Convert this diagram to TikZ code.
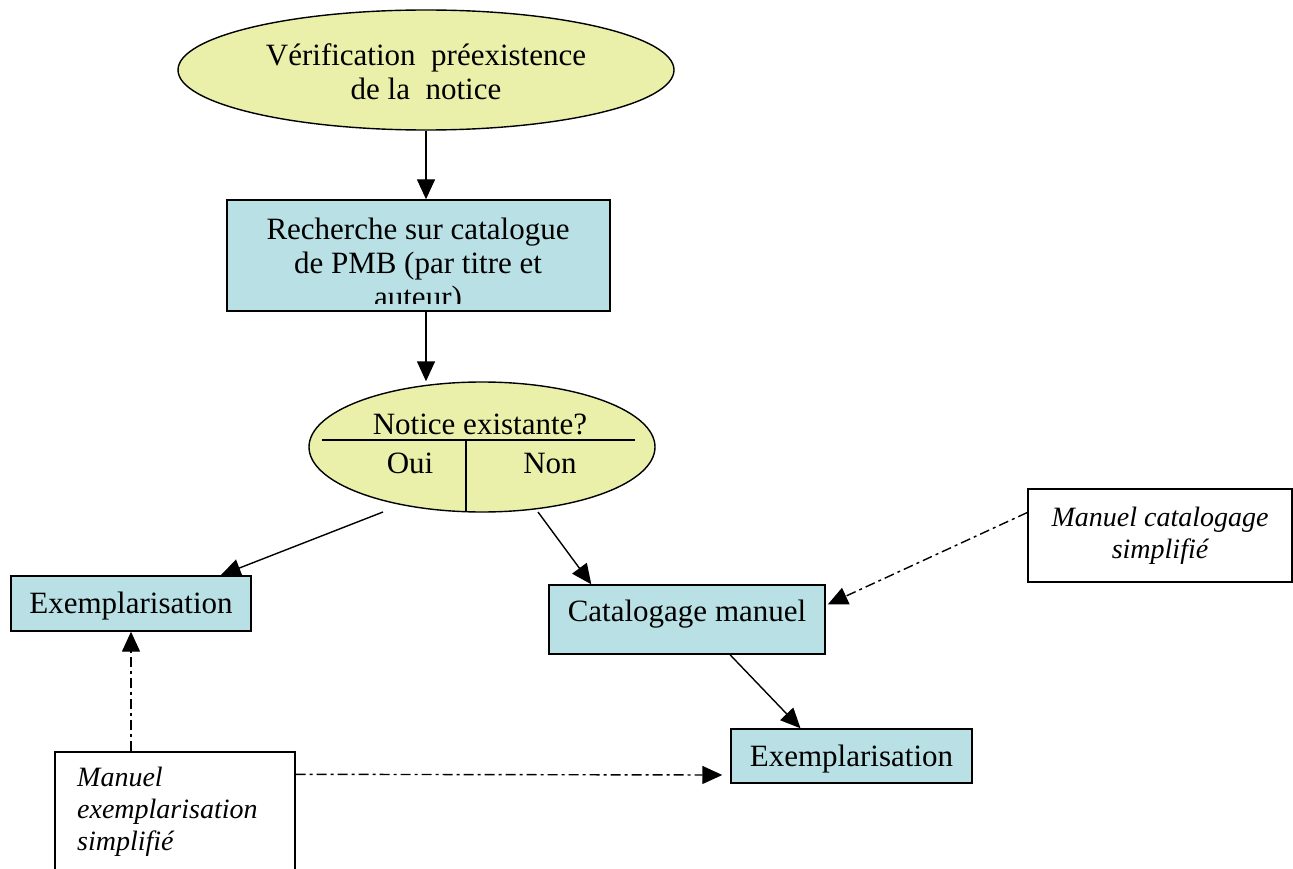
\documentclass[tikz,border=0pt]{standalone}
\usepackage{fontspec}
\setmainfont{Liberation Serif}
\usetikzlibrary{shapes.geometric,arrows.meta,calc}
\definecolor{ellfill}{RGB}{234,240,170}
\definecolor{boxfill}{RGB}{185,224,228}
\begin{document}
\begin{tikzpicture}[x=1pt,y=-1pt,
  base/.style={draw, line width=1.4pt, inner sep=0pt, font=\fontsize{31}{34}\selectfont},
  ell/.style={base, ellipse, fill=ellfill},
  proc/.style={base, rectangle, fill=boxfill},
  note/.style={base, rectangle, fill=white, font=\fontsize{28}{32}\selectfont\itshape},
  txt/.style={inner sep=0pt, font=\fontsize{31}{34}\selectfont},
  arr/.style={-{Triangle[length=20pt,width=18pt]}, line width=1.4pt},
  dd/.style={arr, dash pattern=on 10pt off 4pt on 3pt off 4pt}]
\useasboundingbox (0,0) rectangle (1293,869);

% top ellipse
\node[ell, minimum width=496pt, minimum height=120pt] (ell1) at (426,70) {};
\node[txt, align=center] (ell1txt) at (426,72)
  {Vérification\ \ préexistence\\de la\ \ notice};

% search box (text clipped at the bottom)
\node[proc, minimum width=383pt, minimum height=111pt] (rech) at (418.5,255.5) {};
\begin{scope}
  \clip (228,201) rectangle (609,303);
  \node[txt, align=center, anchor=north] (rechtxt) at (418,218)
    {Recherche sur catalogue\\de PMB (par titre et\\auteur)};
\end{scope}
\draw[line width=1.4pt] (rech.north west) rectangle (rech.south east);

% decision ellipse
\node[ell, minimum width=346pt, minimum height=130pt] (dec) at (482,447) {};
\coordinate (hl) at (322,440);
\coordinate (hr) at (635,440);
\coordinate (vt) at (466,440);
\coordinate (vb) at (466,512);
\draw[line width=1.4pt] (hl) -- (hr);
\draw[line width=1.4pt] (vt) -- (vb);
\node[txt] (q) at (480,424) {Notice existante?};
\node[txt] (oui) at (410,463) {Oui};
\node[txt] (non) at (550,463) {Non};

% process boxes
\node[proc, minimum width=240pt, minimum height=55pt] (ex1) at (131,603.5) {};
\node[txt] (ex1txt) at (131,606) {Exemplarisation};
\node[proc, minimum width=276pt, minimum height=69pt] (cat) at (687,619.5) {};
\node[txt] (cattxt) at (687,614) {Catalogage manuel};
\node[proc, minimum width=241pt, minimum height=54pt] (ex2) at (851.5,756) {};
\node[txt] (ex2txt) at (851.5,759) {Exemplarisation};

% notes
\node[note, minimum width=264pt, minimum height=93pt, align=center] (mcat) at (1160,535.5)
  {Manuel catalogage\\simplifié};
\node[note, minimum width=240pt, minimum height=138pt] (mex) at (175,821) {};
\node[inner sep=0pt, anchor=north west, align=left, font=\fontsize{28}{32}\selectfont\itshape]
  (mextxt) at (77,767) {Manuel\\exemplarisation\\simplifié};

% connectors
\draw[arr] (ell1.south) -- (ell1.south |- rech.north);
\draw[arr] (ell1.south |- rech.south) -- (ell1.south |- dec.north);
\coordinate (d1) at (383,512);
\coordinate (d2) at (538,512);
\draw[arr] (d1) -- ($(ex1.north east)+(-31,0)$);
\draw[arr] (d2) -- ($(cat.north west)+(43,0)$);
\draw[dd] ($(mcat.west)+(0,-23)$) -- ($(cat.east)+(2,-15)$);
\draw[arr] ($(cat.south)+(43,0)$) -- ($(ex2.north)+(-51,0)$);
\draw[dd] (ex1.south |- mex.north) -- (ex1.south);
\draw[dd] ($(mex.north east)+(0,23)$) -- ($(ex2.west)+(-8,19)$);
\end{tikzpicture}
\end{document}
